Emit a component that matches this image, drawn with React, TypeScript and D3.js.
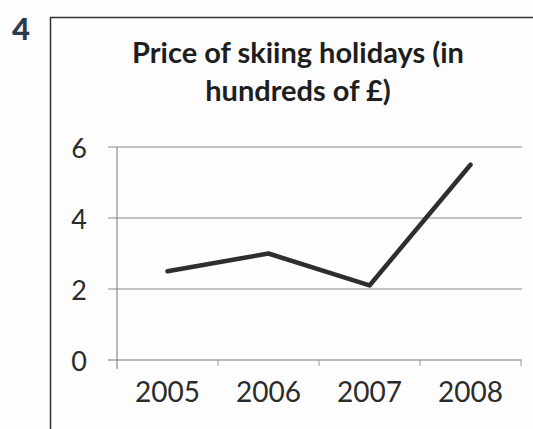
import * as d3 from "d3";

const years = ["2005", "2006", "2007", "2008"];
const prices = [2.5, 3.0, 2.1, 5.5];
const yTicks = [0, 2, 4, 6];
const titleLines = ["Price of skiing holidays (in", "hundreds of £)"];

const W = 533;
const H = 429;
const PLOT = { left: 117, right: 521, top: 147, bottom: 360 };
const FONT = "Lato, 'Open Sans', sans-serif";
const INK = "#2b2b2b";
const GRID = "#8a8a8a";

export default function App() {
  const x = d3
    .scaleBand<string>()
    .domain(years)
    .range([PLOT.left, PLOT.right]);
  const y = d3.scaleLinear().domain([0, 6]).range([PLOT.bottom, PLOT.top]);

  const line = d3
    .line<number>()
    .x((_, i) => (x(years[i]) ?? 0) + x.bandwidth() / 2)
    .y((d) => y(d));

  // category boundary ticks
  const bounds = years.map((yr) => x(yr) ?? 0).concat(PLOT.right);

  return (
    <svg
      width={W}
      height={H}
      style={{ position: "absolute", left: 0, top: 0, background: "#fff" }}
    >
      <rect width={W} height={H} fill="#fdfdfd" />
      <text
        x={12}
        y={40}
        fontFamily={FONT}
        fontWeight={900}
        fontSize={31}
        fill="#2e3a4c"
      >
        4
      </text>

      {/* frame */}
      <line x1={50.5} x2={50.5} y1={17} y2={H} stroke="#333" strokeWidth={1.5} />
      <line x1={50} x2={W} y1={17.5} y2={17.5} stroke="#333" strokeWidth={1.5} />

      {titleLines.map((t, i) => (
        <text
          key={t}
          x={298}
          y={63 + i * 38}
          textAnchor="middle"
          fontFamily={FONT}
          fontWeight={700}
          fontSize={29}
          fill="#1e1e1e"
        >
          {t}
        </text>
      ))}

      {/* gridlines + y ticks */}
      {yTicks.map((t) => (
        <g key={t}>
          <line
            x1={108}
            x2={PLOT.right + 1}
            y1={y(t)}
            y2={y(t)}
            stroke={t === 0 ? "#777" : GRID}
            strokeWidth={1}
          />
          <text
            x={87}
            y={y(t)}
            textAnchor="end"
            dominantBaseline="central"
            fontFamily={FONT}
            fontSize={27}
            fill={INK}
          >
            {t}
          </text>
        </g>
      ))}

      {/* y axis */}
      <line
        x1={PLOT.left}
        x2={PLOT.left}
        y1={PLOT.top}
        y2={PLOT.bottom + 9}
        stroke="#777"
        strokeWidth={1}
      />
      {bounds.slice(1).map((b, i) => (
        <line
          key={i}
          x1={b}
          x2={b}
          y1={PLOT.bottom}
          y2={PLOT.bottom + 6}
          stroke="#999"
          strokeWidth={1}
        />
      ))}

      {years.map((yr) => (
        <text
          key={yr}
          x={(x(yr) ?? 0) + x.bandwidth() / 2}
          y={402}
          textAnchor="middle"
          fontFamily={FONT}
          fontSize={28}
          fill={INK}
        >
          {yr}
        </text>
      ))}

      <path
        d={line(prices) ?? ""}
        fill="none"
        stroke="#2e2e2e"
        strokeWidth={4.5}
        strokeLinejoin="round"
        strokeLinecap="round"
      />
    </svg>
  );
}
